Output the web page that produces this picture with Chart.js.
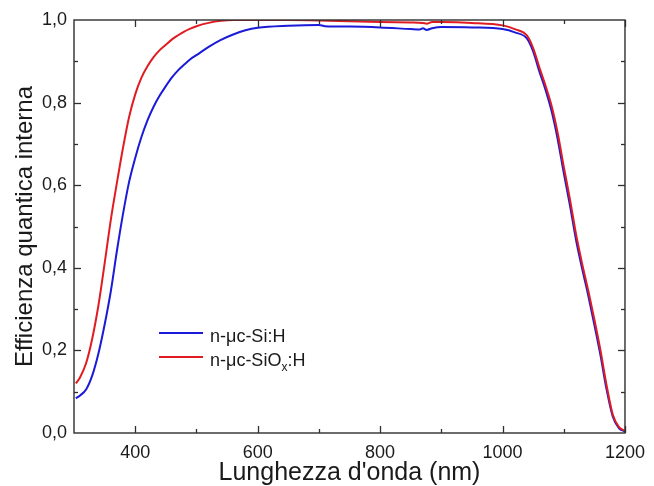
<!DOCTYPE html>
<html><head><meta charset="utf-8">
<script src="https://cdn.jsdelivr.net/npm/chart.js@4/dist/chart.umd.min.js"></script>
<style>html,body{margin:0;padding:0;background:#fff;}#wrap{width:654px;height:486px;}</style>
</head><body><div id="wrap"><canvas id="c" width="654" height="486"></canvas></div>
<script>
// ---- data ----
const wavelengthSi = [303,310,320,330,340,350,360,370,380,390,400,410,420,430,440,450,460,470,480,490,500,520,540,560,580,600,650,700,710,750,800,850,865,870,876,885,900,950,1000,1020,1040,1050,1060,1070,1080,1090,1100,1110,1120,1130,1140,1150,1160,1170,1180,1190,1200];
const eqeSi = [0.084,0.091,0.106,0.140,0.193,0.262,0.342,0.440,0.530,0.608,0.666,0.716,0.757,0.790,0.817,0.840,0.861,0.878,0.892,0.905,0.915,0.935,0.952,0.965,0.975,0.981,0.986,0.988,0.985,0.984,0.982,0.978,0.977,0.980,0.976,0.980,0.983,0.982,0.978,0.970,0.955,0.924,0.876,0.832,0.780,0.712,0.630,0.552,0.468,0.398,0.333,0.262,0.188,0.105,0.040,0.012,0.004];
const wavelengthSiOx = [303,310,320,330,340,350,360,370,380,390,400,410,420,430,440,450,460,470,480,490,500,520,540,560,600,650,700,750,800,850,870,876,885,900,950,1000,1020,1040,1050,1060,1070,1080,1090,1100,1110,1120,1130,1140,1150,1160,1170,1180,1190,1200];
const eqeSiOx = [0.120,0.135,0.170,0.230,0.310,0.410,0.515,0.605,0.690,0.765,0.820,0.860,0.888,0.910,0.927,0.940,0.953,0.963,0.972,0.979,0.985,0.993,0.998,1.000,1.000,1.000,0.999,0.997,0.995,0.994,0.993,0.991,0.995,0.995,0.993,0.987,0.978,0.962,0.932,0.886,0.842,0.793,0.727,0.645,0.567,0.482,0.410,0.345,0.275,0.200,0.115,0.045,0.015,0.005];
const xTickValues = [400,600,800,1000,1200];
const yTickValues = [0,0.2,0.4,0.6,0.8,1.0];
const seriesNames = ['n-μc-Si:H', 'n-μc-SiO', 'x', ':H'];
const xTitle = "Lunghezza d'onda (nm)";
const yTitle = 'Efficienza quantica interna';

const FONT = '"Liberation Sans", Arial, sans-serif';
const BLUE = '#1a1ad8', RED = '#e01c22';

const frameTicks = {
  id: 'frameTicks',
  afterDatasetsDraw(chart) {
    const {ctx, chartArea: a, scales: {x, y}} = chart;
    ctx.save();
    ctx.strokeStyle = '#2e2e2e';
    ctx.lineWidth = 1.4;
    ctx.strokeRect(a.left, a.top, a.right - a.left, a.bottom - a.top);
    ctx.lineWidth = 1.3;
    const seg = (x1, y1, x2, y2) => { ctx.beginPath(); ctx.moveTo(x1, y1); ctx.lineTo(x2, y2); ctx.stroke(); };
    for (let v = 400; v <= 1200; v += 100) {
      const p = Math.round(x.getPixelForValue(v)) + 0.5;
      const len = (v % 200 === 0) ? 7 : 4;
      seg(p, a.bottom, p, a.bottom - len);
      seg(p, a.top, p, a.top + len);
    }
    for (let i = 1; i <= 9; i++) {
      const v = i / 10;
      const p = Math.round(y.getPixelForValue(v)) + 0.5;
      const len = (i % 2 === 0) ? 7 : 4;
      seg(a.left, p, a.left + len, p);
      seg(a.right, p, a.right - len, p);
    }
    ctx.restore();
  },
  afterDraw(chart) {
    const {ctx} = chart;
    ctx.save();
    ctx.lineWidth = 2;
    ctx.strokeStyle = BLUE;
    ctx.beginPath(); ctx.moveTo(159, 333); ctx.lineTo(203, 333); ctx.stroke();
    ctx.strokeStyle = RED;
    ctx.beginPath(); ctx.moveTo(159, 357); ctx.lineTo(203, 357); ctx.stroke();
    ctx.fillStyle = '#1a1a1a';
    ctx.textBaseline = 'alphabetic';
    ctx.font = '18px ' + FONT;
    ctx.fillText(seriesNames[0], 210, 342);
    ctx.fillText(seriesNames[1], 210, 366);
    let w = ctx.measureText(seriesNames[1]).width;
    ctx.font = '12px ' + FONT;
    ctx.fillText(seriesNames[2], 210 + w, 371);
    const w2 = ctx.measureText(seriesNames[2]).width;
    ctx.font = '18px ' + FONT;
    ctx.fillText(seriesNames[3], 210 + w + w2, 366);
    ctx.restore();
  }
};

new Chart(document.getElementById('c'), {
  type: 'line',
  data: {
    datasets: [
      { label: 'n-μc-Si:H', data: wavelengthSi.map((w, i) => ({x: w, y: eqeSi[i]})), borderColor: BLUE, borderWidth: 2, pointRadius: 0, cubicInterpolationMode: 'monotone', order: 1 },
      { label: 'n-μc-SiOx:H', data: wavelengthSiOx.map((w, i) => ({x: w, y: eqeSiOx[i]})), borderColor: RED, borderWidth: 2, pointRadius: 0, cubicInterpolationMode: 'monotone', order: 0 }
    ]
  },
  options: {
    responsive: false,
    animation: false,
    devicePixelRatio: 1,
    layout: { padding: { left: 0, right: 24, top: 20, bottom: 0 } },
    plugins: { legend: { display: false }, tooltip: { enabled: false } },
    scales: {
      x: {
        type: 'linear', min: 300, max: 1200,
        afterBuildTicks: s => { s.ticks = xTickValues.map(v => ({value: v})); },
        afterFit: s => { s.height = 53; },
        grid: { display: false, drawTicks: false },
        border: { display: false },
        ticks: { color: '#1a1a1a', font: { family: FONT, size: 18 }, padding: 9, maxRotation: 0, autoSkip: false, callback: v => String(v) },
        title: { display: true, text: xTitle, color: '#1a1a1a', font: { family: FONT, size: 25, lineHeight: 1 }, padding: { top: 0, bottom: 0 } }
      },
      y: {
        type: 'linear', min: 0, max: 1,
        afterBuildTicks: s => { s.ticks = yTickValues.map(v => ({value: v})); },
        afterFit: s => { s.width = 74; },
        grid: { display: false, drawTicks: false },
        border: { display: false },
        ticks: { color: '#1a1a1a', font: { family: FONT, size: 18 }, padding: 7, autoSkip: false, callback: v => v.toFixed(1).replace('.', ',') },
        title: { display: true, text: yTitle, color: '#1a1a1a', font: { family: FONT, size: 24, lineHeight: 1 }, padding: { top: 13, bottom: 0 } }
      }
    }
  },
  plugins: [frameTicks]
});
</script>
</body></html>
